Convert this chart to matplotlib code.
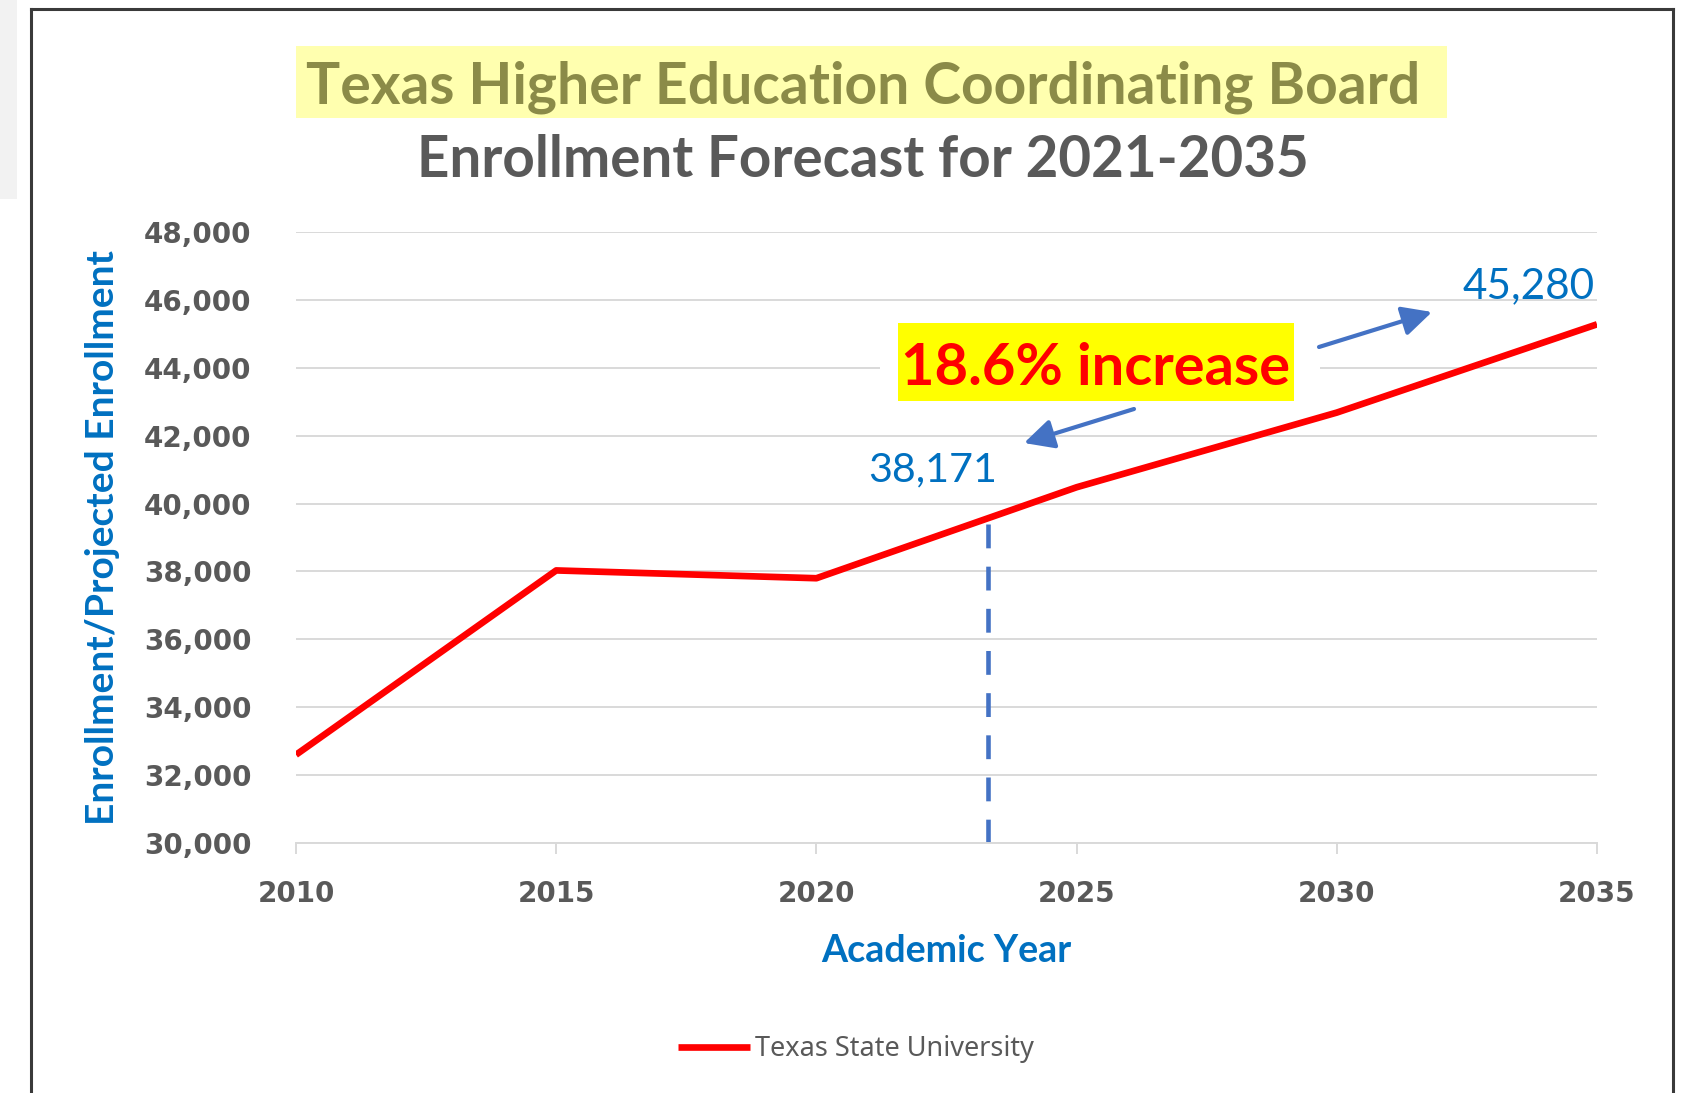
import matplotlib
matplotlib.use("Agg")
import matplotlib.pyplot as plt
from matplotlib.patches import Rectangle, FancyArrowPatch
from matplotlib.lines import Line2D
from matplotlib.ticker import FuncFormatter

# ---------------- data ----------------
years = [2010, 2015, 2020, 2025, 2030, 2035]
enrollment = [32600, 38030, 37800, 40480, 42680, 45280]
series_name = "Texas State University"
x_ticks = [2010, 2015, 2020, 2025, 2030, 2035]
y_ticks = [30000, 32000, 34000, 36000, 38000, 40000, 42000, 44000, 46000, 48000]
forecast_marker_year = 2023.3
forecast_marker_top = 39450
start_label = "38,171"
end_label = "45,280"
increase_label = "18.6% increase"
title_board = "Texas Higher Education Coordinating Board"
title_main = "Enrollment Forecast for 2021-2035"
x_label = "Academic Year"
y_label = "Enrollment/Projected Enrollment"

# ---------------- layout helpers ----------------
W, H = 1686, 1093
fig = plt.figure(figsize=(W / 100, H / 100), dpi=100)
fig.patch.set_facecolor("white")


def fx(px):
    return px / W


def fy(py):
    return 1 - py / H


renderer = fig.canvas.get_renderer()


def fit(t, width_px):
    for _ in range(2):
        w = t.get_window_extent(renderer).width
        t.set_fontsize(t.get_fontsize() * width_px / w)


BLUE = "#0070C0"
ARROW = "#4472C4"
GREY = "#595959"
GRID = "#D9D9D9"

# ---------------- axes ----------------
ax = fig.add_axes([fx(296), fy(843), fx(1597) - fx(296), fy(232) - fy(843)])
ax.plot(years, enrollment, color="#FF0000", lw=4.8, solid_joinstyle="round",
        solid_capstyle="butt", label=series_name, zorder=3)
ax.plot([forecast_marker_year, forecast_marker_year], [y_ticks[0], forecast_marker_top],
        color=ARROW, lw=3.3, dashes=(5.2, 4.0), zorder=2)

ax.set_xlim(x_ticks[0], x_ticks[-1])
ax.set_ylim(y_ticks[0], y_ticks[-1])
ax.set_xticks(x_ticks)
ax.set_yticks(y_ticks)
ax.yaxis.set_major_formatter(FuncFormatter(lambda v, p: f"{int(v):,}"))
ax.yaxis.grid(True, color=GRID, lw=1.4)
ax.set_axisbelow(True)
for s in ["top", "right", "left"]:
    ax.spines[s].set_visible(False)
ax.spines["bottom"].set_color(GRID)
ax.spines["bottom"].set_linewidth(1.4)
ax.tick_params(axis="y", length=0, pad=32, labelsize=20, labelcolor=GREY)
ax.tick_params(axis="x", length=8, color=GRID, width=1.4, pad=19,
               labelsize=20, labelcolor=GREY)
for lab in ax.get_xticklabels() + ax.get_yticklabels():
    lab.set_fontweight("bold")
    lab.set_family("DejaVu Sans")

# ---------------- frame ----------------
fig.add_artist(Rectangle((0, fy(199)), fx(17), fy(0) - fy(199), transform=fig.transFigure,
                         facecolor="#F2F2F2", edgecolor="none", zorder=0))
fc = "#3A3A3A"
fig.add_artist(Line2D([fx(31), fx(31)], [fy(9), 0], transform=fig.transFigure, color=fc, lw=2.2))
fig.add_artist(Line2D([fx(31), fx(1673)], [fy(9), fy(9)], transform=fig.transFigure, color=fc, lw=2.2))
fig.add_artist(Line2D([fx(1673), fx(1673)], [fy(9), 0], transform=fig.transFigure, color=fc, lw=2.2))

# ---------------- titles ----------------
fig.add_artist(Rectangle((fx(296), fy(118)), fx(1447) - fx(296), fy(46) - fy(118),
                         transform=fig.transFigure, facecolor="#FFFFAF", edgecolor="none", zorder=1))
t1 = fig.text(fx(863), fy(104), title_board, ha="center", va="baseline", fontsize=40,
              fontweight="bold", color="#8B8B48", family="Lato", zorder=3)
fit(t1, 1115)
t2 = fig.text(fx(863), fy(177), title_main, ha="center", va="baseline", fontsize=40,
              fontweight="bold", color=GREY, family="Lato", zorder=3)
fit(t2, 892)

# ---------------- axis labels ----------------
yl = fig.text(fx(114), fy(538), y_label, rotation=90, rotation_mode="anchor", ha="center",
              va="baseline", fontsize=20, fontweight="bold", color=BLUE, family="Lato")
fit_h = yl.get_window_extent(renderer).height
yl.set_fontsize(yl.get_fontsize() * 575 / fit_h)
xl = fig.text(fx(946), fy(962), x_label, ha="center", va="baseline", fontsize=20,
              fontweight="bold", color=BLUE, family="Lato")
fit(xl, 250)

# ---------------- annotation box ----------------
fig.add_artist(Rectangle((fx(880), fy(410)), fx(1320) - fx(880), fy(314) - fy(410),
                         transform=fig.transFigure, facecolor="white", edgecolor="none", zorder=1))
fig.add_artist(Rectangle((fx(898), fy(401)), fx(1294) - fx(898), fy(323) - fy(401),
                         transform=fig.transFigure, facecolor="#FFFF00", edgecolor="none", zorder=2))
ti = fig.text(fx(1096), fy(385), increase_label, ha="center", va="baseline", fontsize=36,
              fontweight="bold", color="#FF0000", family="Lato", zorder=3)
fit(ti, 389)

te = fig.text(fx(1529), fy(298), end_label, ha="center", va="baseline", fontsize=26,
              color=BLUE, family="Lato", zorder=3)
fit(te, 132)
ts = fig.text(fx(933), fy(481), start_label, ha="center", va="baseline", fontsize=26,
              color=BLUE, family="Lato", zorder=3)
fit(ts, 129)

for a, b in [((1319, 347), (1432, 312)), ((1134, 409), (1024, 443))]:
    fig.add_artist(FancyArrowPatch((fx(a[0]), fy(a[1])), (fx(b[0]), fy(b[1])),
                                   transform=fig.transFigure, arrowstyle="-|>,head_length=0.9,head_width=0.45",
                                   mutation_scale=20, lw=3.0, color=ARROW,
                                   shrinkA=0, shrinkB=0, zorder=4))

# ---------------- legend ----------------
leg_fs = 19.5
leg = fig.legend(handles=ax.get_lines()[:1], loc="center", bbox_to_anchor=(fx(856), fy(1049)),
                 frameon=False, handlelength=72 / (leg_fs * 100 / 72), handletextpad=0.18,
                 prop={"family": "Noto Sans", "size": leg_fs})
for txt in leg.get_texts():
    txt.set_color(GREY)

fig.savefig("out.png", dpi=100, facecolor="white")
